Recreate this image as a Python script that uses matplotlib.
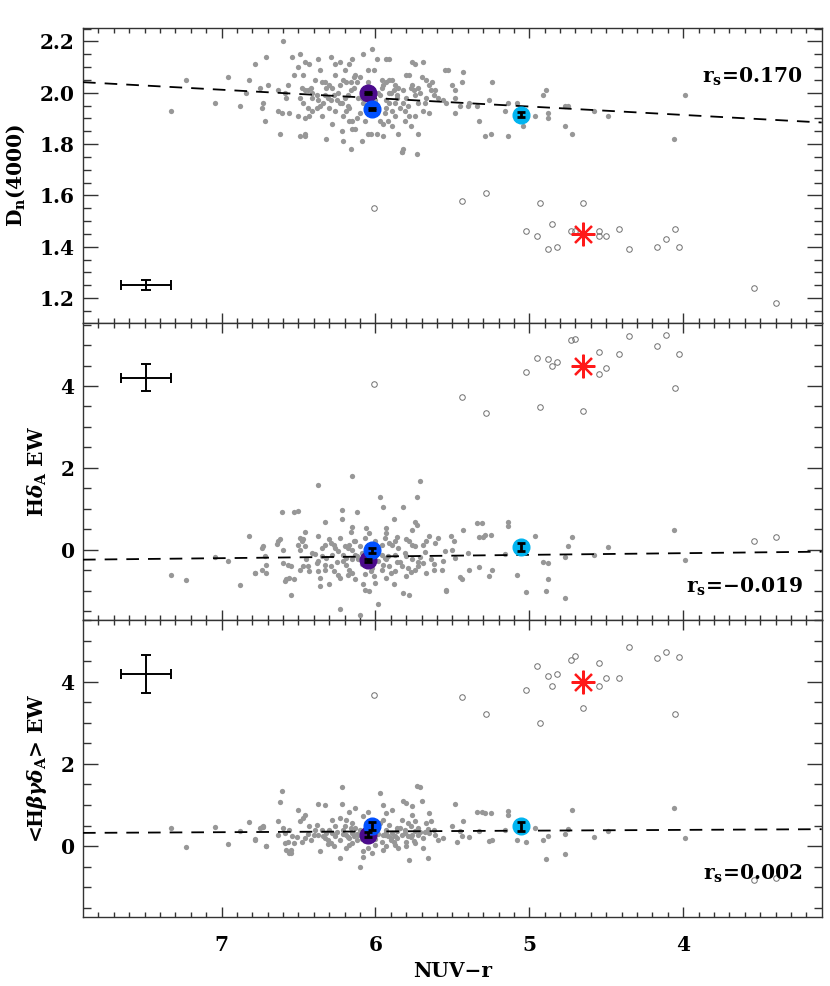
import numpy as np
import matplotlib
matplotlib.use('Agg')
import matplotlib.pyplot as plt

plt.rcParams['font.family'] = ['DejaVu Serif']
plt.rcParams['font.weight'] = 'bold'
plt.rcParams['axes.labelweight'] = 'bold'
plt.rcParams['mathtext.fontset'] = 'custom'
plt.rcParams['mathtext.rm'] = 'DejaVu Serif:bold'
plt.rcParams['mathtext.it'] = 'DejaVu Serif:italic:bold'
plt.rcParams['mathtext.bf'] = 'DejaVu Serif:bold'

# ---------------- data ----------------
# Dn(4000) panel, normal galaxies (grey dots)
dn_x = [6.60, 6.71, 6.78, 6.82, 6.70, 6.75, 6.63, 6.73, 6.74, 6.72, 6.62, 6.56, 6.63, 6.61, 6.58, 6.59,
        6.57, 6.54, 6.49, 6.53, 6.50, 6.47, 6.46, 6.43, 6.48, 6.46, 6.44, 6.42, 6.41, 6.49, 6.47, 6.44,
        6.41, 6.38, 6.37, 6.36, 6.35, 6.33, 6.32, 6.30, 6.28, 6.29, 6.26, 6.23, 6.20, 6.17, 6.15, 6.13,
        6.10, 6.08, 6.05, 6.02, 6.01, 5.99, 5.93, 5.91, 6.26, 6.24, 6.23, 6.30, 6.36, 6.35, 6.43, 6.46,
        6.50, 6.49, 6.46, 6.46, 6.32, 6.28, 6.22, 6.21, 6.16, 6.15, 6.13, 6.09, 6.05, 6.03, 5.99, 5.95,
        6.17, 6.15, 6.10, 6.07, 6.21, 6.19, 6.17, 6.22, 6.20, 6.18, 6.16, 6.14, 6.12, 6.16, 6.19, 6.23,
        6.27, 6.29, 6.31, 6.34, 6.38, 6.41, 6.08, 6.06, 6.00, 5.97, 5.96, 5.95, 5.93, 5.91, 5.89, 5.87,
        5.85, 5.82, 5.80, 5.78, 5.76, 5.74, 5.69, 5.70, 5.67, 5.65, 5.63, 5.61, 5.64, 5.55, 5.53, 5.76,
        5.75, 5.74, 5.80, 5.82, 5.87, 5.91, 5.93, 5.89, 5.87, 5.92, 5.95, 5.97, 5.89, 5.85, 5.81, 5.78,
        5.74, 5.69, 5.65, 5.72, 5.67, 5.59, 5.56, 5.54, 5.77, 5.72, 5.83, 5.82, 5.73, 6.01, 5.91, 5.88,
        5.96, 7.33, 7.23, 7.04, 6.96, 6.88, 6.84, 5.50, 5.48, 5.44, 5.43, 5.48, 5.45, 5.40, 5.39, 5.48,
        5.33, 5.34, 5.29, 5.25, 5.26, 5.24, 5.16, 5.14, 5.14, 5.08, 5.04, 4.96, 4.91, 4.89, 4.88, 4.88,
        4.77, 4.75, 4.77, 4.72, 4.58, 4.49, 4.06, 3.99, 5.83,
        6.25, 6.11, 6.04, 5.98, 5.86, 5.79, 5.71, 6.33, 6.39, 6.07, 5.94, 5.84, 5.68, 6.18, 6.12, 5.90,
        6.02, 5.77, 5.62, 6.26, 6.14, 5.99, 5.81, 6.37, 6.05, 5.86, 5.72, 6.21, 6.09, 5.93]
dn_y = [2.20, 2.14, 2.11, 2.05, 2.03, 2.02, 2.01, 1.96, 1.94, 1.89, 1.84, 1.92, 1.93, 1.92, 1.98, 2.00,
        2.03, 2.14, 2.15, 2.07, 2.10, 2.07, 2.12, 2.11, 2.02, 2.01, 2.01, 2.02, 2.00, 1.98, 1.96, 1.94,
        1.98, 1.99, 2.13, 2.09, 2.04, 2.04, 2.02, 2.03, 2.02, 2.14, 2.11, 2.12, 2.09, 2.11, 2.13, 2.07,
        2.06, 2.15, 2.09, 2.17, 2.09, 2.13, 2.13, 2.13, 2.07, 2.00, 1.96, 1.94, 1.95, 1.91, 1.91, 1.90,
        1.91, 1.83, 1.84, 1.83, 1.82, 1.88, 1.85, 1.81, 1.78, 1.86, 1.86, 1.81, 1.84, 1.84, 1.84, 1.83,
        1.89, 1.89, 1.92, 1.89, 1.91, 1.93, 1.94, 1.96, 1.98, 1.99, 2.01, 2.02, 2.04, 2.04, 2.04, 2.03,
        1.99, 1.97, 1.98, 1.96, 1.94, 1.93, 1.96, 1.94, 1.97, 1.99, 2.02, 2.03, 2.04, 2.05, 2.05, 2.03,
        2.02, 2.01, 2.07, 2.07, 2.12, 2.11, 2.12, 2.06, 2.05, 2.03, 2.04, 2.01, 2.01, 2.09, 2.09, 2.03,
        2.01, 1.99, 1.98, 1.96, 1.96, 1.96, 1.94, 1.93, 1.91, 1.89, 1.88, 1.89, 1.87, 1.84, 1.93, 1.91,
        1.91, 1.93, 1.92, 1.96, 1.98, 1.98, 1.97, 1.96, 1.87, 1.84, 1.77, 1.78, 1.76, 1.99, 2.00, 2.01,
        2.05, 1.93, 2.05, 1.96, 2.06, 1.95, 2.00, 2.03, 2.01, 2.04, 2.08, 1.98, 1.95, 1.95, 1.96, 1.92,
        1.89, 1.95, 1.83, 1.84, 1.97, 2.04, 1.93, 1.96, 1.83, 1.96, 1.87, 1.91, 1.99, 2.01, 1.92, 1.90,
        1.95, 1.95, 1.87, 1.84, 1.93, 1.91, 1.82, 1.99, 1.77,
        1.97, 1.98, 1.95, 2.00, 1.99, 1.95, 2.00, 1.99, 2.05, 2.01, 1.92, 1.94, 1.96, 1.95, 1.90, 2.00,
        1.93, 2.02, 1.99, 1.93, 2.06, 1.92, 1.89, 1.97, 2.04, 1.98, 2.02, 2.05, 1.98, 1.97]

# H delta_A panel, normal galaxies
hd_x = [6.15, 6.37, 5.71, 5.73, 5.97, 5.95, 5.82, 6.61, 6.50, 6.22, 6.12, 6.22, 5.88, 6.33, 5.74, 5.73,
        6.15, 6.06, 5.93, 5.76, 6.16, 6.46, 6.82, 6.73, 6.74, 6.63, 6.62, 6.60, 6.64, 6.49, 6.48, 6.47,
        6.50, 6.46, 6.49, 6.41, 6.37, 6.35, 6.33, 6.30, 6.29, 6.27, 6.23, 6.24, 6.20, 6.18, 6.17, 6.15,
        6.13, 6.10, 6.09, 6.07, 6.04, 6.00, 5.96, 5.94, 5.93, 5.91, 5.89, 5.87, 5.85, 5.80, 5.78, 5.76,
        5.74, 5.69, 5.67, 5.65, 5.61, 5.59, 5.55, 5.56, 5.57, 5.54, 6.72, 6.74, 6.71, 6.78, 6.60, 6.57,
        6.55, 6.58, 6.56, 6.53, 6.55, 6.45, 6.44, 6.43, 6.38, 6.36, 6.36, 6.30, 6.32, 6.29, 6.27, 6.24,
        6.23, 6.23, 6.21, 6.19, 6.17, 6.15, 6.13, 6.08, 6.07, 6.04, 6.10, 6.06, 6.03, 6.01, 6.00, 5.98,
        5.96, 5.95, 5.93, 5.91, 5.88, 5.87, 5.83, 5.82, 5.80, 5.78, 5.76, 5.74, 5.72, 5.69, 5.67, 5.64,
        5.62, 5.87, 5.92, 5.96, 5.80, 6.28, 6.35, 6.19, 6.15, 6.13, 6.49, 6.47, 6.37, 6.33, 7.33, 7.23,
        7.04, 6.96, 6.88, 6.78, 6.71, 6.59, 6.53, 5.43, 5.34, 5.31, 5.33, 5.30, 5.29, 5.25, 5.40, 5.39,
        5.33, 5.26, 5.24, 5.54, 5.45, 5.44, 5.48, 5.49, 5.50, 5.51, 5.16, 5.14, 5.14, 5.08, 5.02, 4.96,
        4.91, 4.88, 4.88, 4.89, 4.77, 4.75, 4.72, 4.77, 4.58, 4.49, 4.06, 3.99,
        6.25, 6.11, 6.04, 5.98, 5.86, 5.79, 5.71, 6.33, 6.39, 6.07, 5.94, 5.84, 5.68, 6.18, 6.12, 5.90,
        6.02, 5.77, 5.62, 6.26, 6.14, 5.99, 5.81, 6.37, 6.05, 5.86, 5.72, 6.21, 6.09, 5.93]
hd_y = [1.81, 1.59, 1.67, 1.29, 1.28, 1.04, 1.04, 0.92, 0.94, 0.98, 0.91, 0.75, 0.74, 0.67, 0.67, 0.61,
        0.56, 0.53, 0.53, 0.49, 0.42, 0.43, 0.33, 0.10, 0.04, 0.20, 0.25, 0.00, 0.15, 0.29, 0.20, 0.25,
        0.12, 0.08, 0.00, -0.08, 0.33, 0.04, 0.12, 0.25, 0.16, 0.12, 0.29, -0.04, 0.08, 0.04, 0.12, 0.00,
        0.20, 0.08, -0.08, 0.29, 0.41, 0.20, 0.12, 0.29, 0.41, 0.16, 0.12, 0.20, 0.04, 0.25, 0.20, 0.12,
        0.08, 0.12, 0.20, 0.33, 0.16, 0.29, -0.04, -0.28, -0.49, -0.98, -0.16, -0.49, -0.57, -0.57, -0.33, -0.37,
        -0.41, -0.73, -0.69, -0.73, -1.10, -0.24, -0.41, -0.53, -0.33, -0.69, -0.90, -0.85, -0.20, -0.41, -0.53, -0.61,
        -0.69, -1.45, -0.28, -0.37, -0.49, -0.57, -0.73, -0.85, -0.98, -1.02, -1.61, -0.41, -0.53, -0.65, -0.81, -1.33,
        -0.49, -0.37, -0.24, -0.41, -0.85, -0.53, -0.41, -1.06, -0.65, -1.10, -0.24, -0.49, -0.41, -0.33, -0.57, -0.24,
        -0.49, -0.12, -0.16, -0.12, -0.16, -0.12, -0.16, -0.20, -0.24, -0.12, -0.49, -0.41, -0.53, -0.49, -0.63, -0.75,
        -0.17, -0.27, -0.87, -0.56, -0.38, -0.77, 0.93, 0.48, 0.64, 0.65, 0.31, 0.31, 0.37, 0.35, -0.07, -0.49,
        -0.42, -0.64, -0.51, -1.00, -0.68, -0.73, -0.20, 0.22, 0.00, 0.33, -0.11, 0.68, 0.59, -0.61, -1.03, 0.33,
        -0.30, -0.33, -0.72, -1.01, -0.19, 0.09, 0.30, -1.19, -0.12, 0.06, 0.47, -0.25,
        -0.30, -0.22, -0.35, -0.28, -0.31, -0.45, -0.18, -0.38, -0.10, -0.60, -0.20, -0.30, -0.05, -0.62, -0.15, -0.58,
        -0.45, -0.55, -0.35, 0.05, 0.22, 0.05, -0.08, -0.28, 0.10, 0.30, -0.30, -0.12, -0.35, -0.70]

# <H beta gamma delta_A> panel, normal galaxies
hb_x = [6.22, 5.73, 5.71, 6.61, 5.97, 6.62, 6.37, 6.33, 6.22, 6.13, 6.17, 5.95, 5.82, 5.80, 5.76, 5.70,
        5.89, 5.93, 5.76, 5.65, 6.50, 6.46, 6.47, 6.49, 6.05, 6.08, 6.28, 6.23, 6.19, 6.15, 6.38, 6.43,
        6.56, 6.60, 6.73, 6.75, 6.78, 6.71, 6.63, 6.59, 6.54, 6.57, 6.53, 6.48, 6.46, 6.42, 6.55, 6.56,
        6.36, 6.30, 6.28, 6.26, 6.23, 6.21, 6.19, 6.17, 6.15, 6.13, 6.23, 6.19, 6.17, 6.15, 6.12, 6.08,
        6.08, 6.10, 6.05, 6.02, 6.00, 6.03, 5.96, 5.95, 5.93, 5.91, 5.89, 5.87, 5.86, 5.83, 5.81, 5.80,
        5.79, 5.77, 5.76, 5.74, 5.72, 5.69, 5.69, 5.67, 5.65, 5.64, 5.61, 5.59, 5.56, 5.78, 5.66, 5.87,
        5.90, 5.92, 6.32, 6.34, 6.31, 6.29, 6.27, 6.35, 6.40, 6.01, 5.97, 5.95, 6.10, 6.07, 5.83, 5.74,
        5.80, 5.74, 5.85, 5.93, 5.95, 7.33, 7.23, 7.04, 6.96, 6.88, 6.82, 6.78, 6.74, 6.73, 6.71, 6.63,
        6.59, 6.58, 6.55, 5.50, 5.48, 5.43, 5.45, 5.44, 5.47, 5.39, 5.34, 5.31, 5.29, 5.33, 5.26, 5.24,
        5.25, 5.14, 5.14, 5.16, 5.08, 5.02, 4.96, 4.91, 4.88, 4.89, 4.77, 4.75, 4.72, 4.77, 4.58, 4.49,
        4.06, 3.99,
        6.25, 6.11, 6.04, 5.98, 5.86, 5.79, 5.71, 6.33, 6.39, 6.07, 5.94, 5.84, 5.68, 6.18, 6.12, 5.90,
        6.02, 5.77, 5.62, 6.26, 6.14, 5.99, 5.81, 6.37, 6.05, 5.86, 5.72, 6.21, 6.09, 5.93,
        6.44, 6.51, 6.31, 6.16, 6.00, 5.88, 5.75, 5.66, 6.20, 6.06]
hb_y = [1.45, 1.47, 1.45, 1.33, 1.29, 1.07, 1.03, 1.00, 1.03, 0.93, 0.84, 1.01, 1.09, 1.05, 0.97, 1.09,
        0.89, 0.80, 0.76, 0.80, 0.89, 0.76, 0.68, 0.60, 0.84, 0.72, 0.64, 0.68, 0.64, 0.56, 0.52, 0.48,
        0.40, 0.44, 0.48, 0.44, 0.15, -0.01, 0.28, 0.32, 0.24, 0.11, 0.07, 0.11, 0.19, 0.15, -0.09, -0.16,
        -0.13, 0.40, 0.32, 0.24, 0.15, 0.40, 0.28, 0.19, 0.32, 0.44, -0.29, -0.05, 0.03, 0.07, 0.15, -0.13,
        -0.27, -0.51, -0.05, -0.17, 0.03, 0.19, 0.11, 0.28, 0.40, 0.52, 0.32, 0.03, 0.19, 0.28, 0.40, -0.01,
        0.56, 0.48, 0.28, 0.36, 0.44, 0.19, -0.05, 0.56, 0.32, 0.60, 0.28, 0.15, 0.19, -0.33, -0.29, 0.24,
        0.15, 0.24, 0.32, 0.24, 0.15, 0.07, -0.01, 0.40, 0.28, 0.48, 0.56, 0.64, 0.40, 0.32, 0.64, 0.60,
        0.11, 0.07, -0.05, -0.01, -0.09, 0.43, -0.03, 0.47, 0.04, 0.37, 0.59, 0.17, 0.47, 0.47, 0.00, 0.62,
        0.07, -0.10, -0.17, 0.48, 1.02, 0.62, 0.36, 0.24, 0.11, 0.23, 0.82, 0.82, 0.80, 0.36, 0.13, 0.15,
        0.81, 0.86, 0.76, 0.40, 0.15, 0.10, 0.43, 0.15, 0.25, -0.31, 0.29, 0.41, 0.88, -0.19, 0.23, 0.37,
        0.93, 0.19,
        0.35, 0.28, 0.22, 0.30, 0.36, 0.25, 0.33, 0.20, 0.38, 0.12, 0.26, 0.45, 0.35, 0.22, 0.30, 0.20,
        0.34, 0.22, 0.40, 0.50, 0.24, 0.42, 0.31, 0.27, 0.36, 0.45, 0.28, 0.30, 0.18, 0.34,
        0.30, 0.22, 0.05, 0.45, 0.18, 0.10, 0.13, 0.42, 0.50, 0.55]

# post-starburst-like objects (open circles), same NUV-r in all panels
ps_x = [6.01, 5.44, 5.28, 4.93, 4.65, 4.85, 5.02, 4.95, 4.88, 4.82, 4.73, 4.70,
        4.55, 4.55, 4.50, 4.42, 4.35, 4.17, 4.11, 4.05, 4.03, 3.54, 3.40]
ps_dn = [1.55, 1.58, 1.61, 1.57, 1.57, 1.49, 1.46, 1.44, 1.39, 1.40, 1.46, 1.46,
         1.46, 1.44, 1.44, 1.47, 1.39, 1.40, 1.43, 1.47, 1.40, 1.24, 1.18]
ps_hd = [4.06, 3.72, 3.35, 3.48, 3.40, 4.48, 4.34, 4.69, 4.65, 4.58, 5.13, 5.14,
         4.82, 4.30, 4.43, 4.79, 5.23, 4.98, 5.25, 3.96, 4.78, 0.20, 0.31]
ps_hb = [3.69, 3.63, 3.22, 3.01, 3.37, 3.89, 3.80, 4.40, 4.15, 4.19, 4.54, 4.63,
         4.45, 3.89, 4.10, 4.10, 4.84, 4.59, 4.72, 3.23, 4.62, -0.82, -0.77]

# stacked / median points: purple, blue, cyan (x, y, yerr per panel)
avg_colors = ['#4b0a8c', '#0050ff', '#00b4f0']
avg_x = [6.05, 6.02, 5.055]
avg_dn = [2.00, 1.935, 1.915]
avg_dn_err = [0.004, 0.004, 0.010]
avg_hd = [-0.26, -0.02, 0.06]
avg_hd_err = [0.04, 0.06, 0.10]
avg_hb = [0.28, 0.48, 0.48]
avg_hb_err = [0.05, 0.10, 0.11]

# red asterisk (post-starburst mean)
star_x = 4.65
star_y = [1.45, 4.48, 4.01]

# typical error cross
err_x, err_xe = 7.49, 0.165
err_y = [1.25, 4.2, 4.2]
err_ye = [0.02, 0.33, 0.46]

# fitted relations: values at x = 7.9 and x = 3.1
fit_x = [7.9, 3.1]
fit_dn = [2.041, 1.884]
fit_hd = [-0.245, -0.05]
fit_hb = [0.32, 0.41]

rs_text = ['0.170', '\u22120.019', '0.002']
ylabels = ['D$_\\mathrm{n}$(4000)', 'H$\\delta_\\mathrm{A}$ EW', '<H$\\beta\\gamma\\delta_\\mathrm{A}$> EW']
ylims = [(1.103, 2.252), (-1.72, 5.54), (-1.73, 5.51)]

# ---------------- figure ----------------
fig = plt.figure(figsize=(8.3, 9.86), dpi=100)
boxes = [[0.1, 0.6724, 0.89, 0.2992],
         [0.1, 0.3712, 0.89, 0.3012],
         [0.1, 0.0700, 0.89, 0.3012]]
panels = [(dn_x, dn_y, ps_dn, avg_dn, avg_dn_err, fit_dn),
          (hd_x, hd_y, ps_hd, avg_hd, avg_hd_err, fit_hd),
          (hb_x, hb_y, ps_hb, avg_hb, avg_hb_err, fit_hb)]
rs_pos = [0.814, 0.091, 0.125]
fs = 14.5

for i, (gx, gy, psy, ay, ae, fy) in enumerate(panels):
    ax = fig.add_axes(boxes[i])
    ax.plot(gx, gy, 'o', color='#979797', ms=3.8, mec='none', zorder=2)
    ax.plot(ps_x, psy, 'o', mfc='none', mec='#707070', mew=0.7, ms=4, zorder=2)
    ax.plot(fit_x, fy, color='black', lw=1.3, dashes=(7, 5), zorder=3)
    for j in range(3):
        ax.plot(avg_x[j], ay[j], 'o', color=avg_colors[j], ms=12, zorder=4)
        ax.errorbar(avg_x[j], ay[j], yerr=ae[j], fmt='none', ecolor='black',
                    elinewidth=2, capsize=3, capthick=2, zorder=5)
    ax.plot(star_x, star_y[i], marker=(8, 2, 0), color='#ff1a1a', ms=17, mew=1.6, zorder=5)
    ax.errorbar(err_x, err_y[i], xerr=err_xe, yerr=err_ye[i], fmt='none', ecolor='black',
                elinewidth=1.4, capsize=3.5, capthick=1.4)
    ax.text(0.974, rs_pos[i], 'r$_\\mathrm{s}$=' + rs_text[i], transform=ax.transAxes,
            ha='right', va='baseline', fontsize=fs, fontweight='bold')

    ax.set_xlim(7.9, 3.1)
    ax.set_ylim(*ylims[i])
    ax.set_xticks([7, 6, 5, 4])
    ax.set_xticks(np.arange(3.2, 7.9, 0.1), minor=True)
    if i == 0:
        ax.set_yticks([1.2, 1.4, 1.6, 1.8, 2.0, 2.2])
        ax.set_yticks(np.arange(1.15, 2.26, 0.05), minor=True)
        ax.set_yticklabels(['1.2', '1.4', '1.6', '1.8', '2.0', '2.2'])
    else:
        ax.set_yticks([0, 2, 4])
        ax.set_yticks(np.arange(-1.5, 5.6, 0.5), minor=True)
    ax.tick_params(axis='both', which='both', direction='in', top=True, right=True,
                   color='#333333', width=1)
    ax.tick_params(axis='x', which='major', length=7, pad=13)
    ax.tick_params(axis='x', which='minor', length=3.5)
    ax.tick_params(axis='y', which='major', length=11, pad=6)
    ax.tick_params(axis='y', which='minor', length=5.5)
    ax.tick_params(labelsize=fs)
    if i < 2:
        ax.tick_params(axis='x', labelbottom=False)
    else:
        ax.set_xlabel('NUV\u2212r', fontsize=fs, fontweight='bold', labelpad=4)
    for sp in ax.spines.values():
        sp.set_color('#333333')
        sp.set_linewidth(1.0)
    ax.set_ylabel(ylabels[i], fontsize=fs, fontweight='bold')
    ax.yaxis.set_label_coords([-0.076, -0.046, -0.046][i], 0.5)

fig.savefig('out.png', dpi=100)
